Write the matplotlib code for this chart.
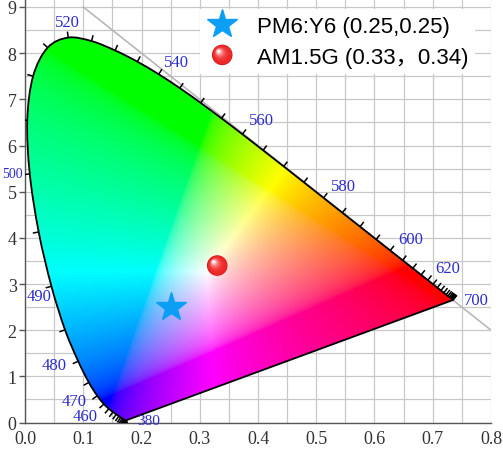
import numpy as np
import matplotlib
matplotlib.use("Agg")
import matplotlib.pyplot as plt
from matplotlib.patches import PathPatch, Circle
from matplotlib.path import Path
from matplotlib.lines import Line2D
from matplotlib.collections import LineCollection
from matplotlib.offsetbox import DrawingArea, AnnotationBbox
from matplotlib.legend_handler import HandlerBase
from matplotlib.font_manager import FontProperties

# CIE 1931 2-degree spectral locus, 5 nm steps
wavelength = np.arange(380, 705, 5)
locus_x = [0.1741, 0.1740, 0.1738, 0.1736, 0.1733, 0.1730, 0.1726, 0.1721, 0.1714, 0.1703,
           0.1689, 0.1669, 0.1644, 0.1611, 0.1566, 0.1510, 0.1440, 0.1355, 0.1241, 0.1096,
           0.0913, 0.0687, 0.0454, 0.0235, 0.0082, 0.0039, 0.0139, 0.0389, 0.0743, 0.1142,
           0.1547, 0.1929, 0.2296, 0.2658, 0.3016, 0.3373, 0.3731, 0.4087, 0.4441, 0.4788,
           0.5125, 0.5448, 0.5752, 0.6029, 0.6270, 0.6482, 0.6658, 0.6801, 0.6915, 0.7006,
           0.7079, 0.7140, 0.7190, 0.7230, 0.7260, 0.7283, 0.7300, 0.7311, 0.7320, 0.7327,
           0.7334, 0.7340, 0.7344, 0.7346, 0.7347]
locus_y = [0.0050, 0.0050, 0.0049, 0.0049, 0.0048, 0.0048, 0.0048, 0.0048, 0.0051, 0.0058,
           0.0069, 0.0086, 0.0109, 0.0138, 0.0177, 0.0227, 0.0297, 0.0399, 0.0578, 0.0868,
           0.1327, 0.2007, 0.2950, 0.4127, 0.5384, 0.6548, 0.7502, 0.8120, 0.8338, 0.8262,
           0.8059, 0.7816, 0.7543, 0.7243, 0.6923, 0.6589, 0.6245, 0.5896, 0.5547, 0.5202,
           0.4866, 0.4544, 0.4242, 0.3965, 0.3725, 0.3514, 0.3340, 0.3197, 0.3083, 0.2993,
           0.2920, 0.2859, 0.2809, 0.2770, 0.2740, 0.2717, 0.2700, 0.2689, 0.2680, 0.2673,
           0.2666, 0.2660, 0.2656, 0.2654, 0.2653]

# labelled wavelengths (nm)
label_wl = [380, 460, 470, 480, 490, 500, 520, 540, 560, 580, 600, 620, 700]

# measured chromaticity points
point_names = ["PM6:Y6", "AM1.5G"]
point_x = [0.25, 0.33]
point_y = [0.25, 0.34]
point_sep = [",", "\uff0c"]

x_ticks = [0.0, 0.1, 0.2, 0.3, 0.4, 0.5, 0.6, 0.7, 0.8]
y_ticks = [0.0, 0.1, 0.2, 0.3, 0.4, 0.5, 0.6, 0.7, 0.8, 0.9]
y_ticklabels = ["0", "1", "2", "3", "4", "5", "6", "7", "8", "9"]

# ---------------------------------------------------------------- layout
W, H = 503, 452
fig = plt.figure(figsize=(W / 100, H / 100), dpi=100)
ax_left, ax_right, ax_bottom = 25, 491, 452 - 423.5
ax = fig.add_axes([ax_left / W, ax_bottom / H, (ax_right - ax_left) / W, 423.5 / H])
px_per_x = (ax_right - ax_left) / 0.8
px_per_y = 415.5 / 0.9
y_top = 423.5 / px_per_y

serif = "Liberation Serif"
tick_color = "#333333"
wl_color = "#2b2bd2"

# ---------------------------------------------------------------- smooth locus path
pts = np.column_stack([locus_x, locus_y])
ext = np.vstack([pts[0], pts, pts[-1]])
verts = [pts[0]]
codes = [Path.MOVETO]
for i in range(len(pts) - 1):
    p0, p1, p2, p3 = ext[i], ext[i + 1], ext[i + 2], ext[i + 3]
    c1 = p1 + (p2 - p0) / 6.0
    c2 = p2 - (p3 - p1) / 6.0
    verts += [c1, c2, p2]
    codes += [Path.CURVE4] * 3
verts += [pts[0], pts[0]]
codes += [Path.LINETO, Path.CLOSEPOLY]
locus_path = Path(np.array(verts), codes)

# ---------------------------------------------------------------- chromaticity fill
nx, ny = 900, 1000
gx = np.linspace(0.0005, 0.8, nx)
gy = np.linspace(0.0005, y_top, ny)
GX, GY = np.meshgrid(gx, gy)
Xc = GX / GY
Yc = np.ones_like(GX)
Zc = (1 - GX - GY) / GY
R = 3.2406 * Xc - 1.5372 * Yc - 0.4986 * Zc
G = -0.9689 * Xc + 1.8758 * Yc + 0.0415 * Zc
B = 0.0557 * Xc - 0.2040 * Yc + 1.0570 * Zc
rgb = np.clip(np.dstack([R, G, B]), 0, None)
rgb = rgb / np.maximum(rgb.max(axis=2, keepdims=True), 1e-9)
rgb = np.where(rgb <= 0.0031308, 12.92 * rgb, 1.055 * np.power(rgb, 1 / 2.4) - 0.055)
rgb = np.clip(rgb, 0, 1)

clip_patch = PathPatch(locus_path, facecolor="none", edgecolor="none")
ax.add_patch(clip_patch)
im = ax.imshow(rgb, extent=(0, 0.8, 0, y_top), origin="lower",
               interpolation="bilinear", aspect="auto", zorder=2)
im.set_clip_path(clip_patch)
ax.add_patch(PathPatch(locus_path, facecolor="none", edgecolor="black",
                       lw=1.3, zorder=3, joinstyle="round"))

# reference line x + y = 1
ax.plot([0.1, 0.8], [0.9, 0.2], color="#b8b8b8", lw=1.2, zorder=1.5)

# ---------------------------------------------------------------- wavelength ticks
px = np.array(locus_x) * px_per_x
py = np.array(locus_y) * px_per_y
tx = np.gradient(px)
ty = np.gradient(py)
norm = np.hypot(tx, ty)
norm[norm == 0] = 1
nxv, nyv = -ty / norm, tx / norm
tick_len = 6.0
segs = []
for i in range(len(wavelength)):
    x0, y0 = locus_x[i], locus_y[i]
    x1 = x0 + tick_len * nxv[i] / px_per_x
    y1 = y0 + tick_len * nyv[i] / px_per_y
    segs.append([(x0, y0), (x1, y1)])
ax.add_collection(LineCollection(segs, colors="black", linewidths=1.1, zorder=3))

# label offsets in points from the locus point
label_offsets = {
    380: (16, 0), 460: (-17, -5), 470: (-17, -4), 480: (-17, -3), 490: (-9, -7),
    500: (-5, 0), 520: (-1, 11), 540: (13, 9), 560: (14, 10), 580: (14, 8.5),
    600: (14.5, 8), 620: (14, 8.5), 700: (17, 0),
}
label_sizes = {380: 11, 500: 10}
for wl in label_wl:
    i = int((wl - 380) // 5)
    ha = "right" if wl == 500 else "center"
    ax.annotate(str(wl), (locus_x[i], locus_y[i]), xytext=label_offsets[wl],
                textcoords="offset points", ha=ha, va="center",
                fontsize=label_sizes.get(wl, 12), family=serif, color=wl_color,
                zorder=4, annotation_clip=False)

# ---------------------------------------------------------------- markers
star_color = "#0a9ff5"
ax.plot(point_x[0], point_y[0], marker="*", ms=22, color=star_color,
        ls="none", zorder=6)


def add_sphere(area, cx, cy, r):
    """Shaded red ball built from stacked circles."""
    area.add_artist(Circle((cx, cy), r, facecolor="#c81616", edgecolor="none"))
    n = 14
    for k in range(n):
        t = k / (n - 1)
        rad = r * (0.94 - 0.80 * t)
        off = 0.36 * r * t
        base = np.array([0.93, 0.15, 0.15]) * (1 - 0.4 * t) + np.array([1.0, 0.3, 0.3]) * 0.4 * t
        w = t ** 3
        col = base * (1 - w) + np.array([1.0, 0.97, 0.97]) * w
        area.add_artist(Circle((cx - off, cy + off), rad,
                               facecolor=tuple(np.clip(col, 0, 1)), edgecolor="none"))


ball_r = 7.4
da = DrawingArea(2 * ball_r, 2 * ball_r, 0, 0)
add_sphere(da, ball_r, ball_r, ball_r)
ab = AnnotationBbox(da, (point_x[1], point_y[1]), frameon=False, pad=0,
                    box_alignment=(0.5, 0.5), zorder=6)
ax.add_artist(ab)


class SphereHandler(HandlerBase):
    def create_artists(self, legend, orig_handle, xdescent, ydescent,
                       width, height, fontsize, trans):
        cx = 0.5 * width - xdescent
        cy = 0.5 * height - ydescent
        tmp = DrawingArea(1, 1, 0, 0)
        add_sphere(tmp, cx, cy, ball_r)
        arts = tmp.get_children()
        for a in arts:
            a.set_transform(trans)
        return arts


star_handle = Line2D([], [], marker="*", ms=22, color=star_color, ls="none")
ball_handle = Circle((0, 0), 1)
labels = [f"{n} ({x:.2f}{s}{y:.2f})" for n, x, y, s in
          zip(point_names, point_x, point_y, point_sep)]
leg = ax.legend([star_handle, ball_handle], labels,
                handler_map={Circle: SphereHandler()},
                loc="upper left", bbox_to_anchor=(200 / W, 1 - 10 / H),
                bbox_transform=fig.transFigure, borderaxespad=0,
                prop=FontProperties(family=["Liberation Sans", "Noto Sans CJK SC"], size=16),
                frameon=True, fancybox=False, framealpha=1, facecolor="white",
                edgecolor="none", borderpad=0.3, handlelength=1.4,
                handletextpad=0.85, labelspacing=0.45)
leg.set_zorder(10)

# ---------------------------------------------------------------- axes
ax.set_xlim(0, 0.8)
ax.set_ylim(0, y_top)
ax.set_xticks(x_ticks)
ax.set_xticklabels([f"{v:.1f}" for v in x_ticks])
ax.set_yticks(y_ticks)
ax.set_yticklabels(y_ticklabels)
ax.set_xticks(np.arange(0.05, 0.8, 0.1), minor=True)
ax.set_yticks(np.arange(0.05, 0.9, 0.1), minor=True)
ax.grid(which="both", color="#c8c8c8", lw=0.9)
ax.set_axisbelow(True)
for side in ("top", "right"):
    ax.spines[side].set_visible(False)
for side in ("left", "bottom"):
    ax.spines[side].set_color("#555555")
    ax.spines[side].set_linewidth(1.0)
ax.tick_params(axis="y", which="major", direction="out", length=4, width=1,
               color="#555555", pad=2, labelsize=13, labelcolor=tick_color)
ax.tick_params(axis="x", which="major", length=0, pad=5.5, labelsize=13,
               labelcolor=tick_color)
ax.tick_params(which="minor", length=0)
for lab in ax.get_xticklabels() + ax.get_yticklabels():
    lab.set_family(serif)

fig.savefig("out.png", dpi=100)
